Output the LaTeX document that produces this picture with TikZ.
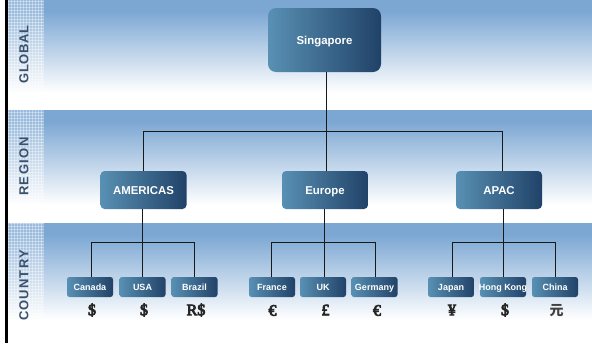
\documentclass[tikz,border=0pt]{standalone}
\usepackage{fontspec}
\setmainfont{Liberation Sans}
\newfontfamily\symfont[FakeBold=5]{Liberation Serif}
\newfontfamily\cjkfont{Noto Sans CJK SC}
\definecolor{bandblue}{RGB}{124,167,211}
\definecolor{boxleft}{RGB}{88,144,179}
\definecolor{boxright}{RGB}{33,66,104}
\definecolor{sidetext}{RGB}{58,82,110}
\pgfdeclareverticalshading{bandfade}{100bp}{color(0bp)=(white); color(33bp)=(white); color(70bp)=(bandblue); color(100bp)=(bandblue)}
\tikzset{
  bandrect/.style={shading=bandfade,draw=none},
  boxbase/.style={rectangle,inner sep=0pt,left color=boxleft,right color=boxright,text=white,draw=none,align=center,text depth=0pt},
  bigbox/.style={boxbase,minimum width=113pt,minimum height=64pt,rounded corners=8pt,text height=8.2pt,font=\fontsize{11.4}{13}\selectfont\bfseries},
  midbox/.style={boxbase,minimum width=86pt,minimum height=38pt,rounded corners=4pt,text height=8.2pt,font=\fontsize{11.4}{13}\selectfont\bfseries},
  smallbox/.style={boxbase,minimum width=46pt,minimum height=20pt,rounded corners=2.5pt,text height=6.5pt,font=\fontsize{9}{11}\selectfont\bfseries},
  sidelabel/.style={rotate=90,text=sidetext,inner sep=0pt,font=\fontsize{13}{15}\selectfont\bfseries},
  money/.style={inner sep=0pt,text=black!85,font=\fontsize{16}{17}\selectfont\symfont},
  moneycjk/.style={inner sep=0pt,text=black!75,font=\fontsize{14}{15}\selectfont\cjkfont\bfseries},
  link/.style={draw=black!90,line width=1pt},
  gridline/.style={white,opacity=.36,line width=1pt}
}
\begin{document}
\begin{tikzpicture}[x=1pt,y=-1pt]
\useasboundingbox (0,0) rectangle (592,343);
\fill[white] (0,0) rectangle (592,343);
% bands
\path[bandrect] (7,0) rectangle (592,110);
\path[bandrect] (7,110) rectangle (592,223);
\path[bandrect] (7,223) rectangle (592,338);
\fill[white] (7,338) rectangle (592,343);
% dotted side panel
\fill[white,opacity=.22] (7,0) rectangle (44,325);
\foreach \x in {8.5,11.5,...,44}{\draw[gridline] (\x,0) -- (\x,325);}
\foreach \y in {1,4,...,325}{\draw[gridline] (7,\y) -- (44,\y);}
\fill[black] (5,0) rectangle (7.5,343);
% side labels
\node[sidelabel] (lg) at (24,54.5) {\addfontfeature{LetterSpace=5}GLOBAL};
\node[sidelabel] (lr) at (24,166.5) {\addfontfeature{LetterSpace=11.5}REGION};
\node[sidelabel] (lc) at (24,285.5) {\addfontfeature{LetterSpace=8.5}COUNTRY};
% nodes
\node[bigbox] (sg) at (324.5,40) {Singapore};
\node[midbox] (am) at (143.5,190) {AMERICAS};
\node[midbox] (eu) at (325,190) {Europe};
\node[midbox] (ap) at (499,190) {APAC};
\node[smallbox] (ca) at (90,287) {Canada};
\node[smallbox] (us) at (142.5,287) {USA};
\node[smallbox] (br) at (194.5,287) {Brazil};
\node[smallbox] (fr) at (272,287) {France};
\node[smallbox] (uk) at (323,287) {UK};
\node[smallbox] (de) at (374.5,287) {Germany};
\node[smallbox] (jp) at (451,287) {Japan};
\node[smallbox] (hk) at (503,287) {\makebox[46pt][c]{Hong Kong}};
\node[smallbox] (cn) at (555,287) {China};
% currency
\node[money] (m1) at (92,310) {\$};
\node[money] (m2) at (144,310) {\$};
\node[money] (m3) at (196,310) {R\$};
\node[money] (m4) at (272.5,310.5) {€};
\node[money] (m5) at (325.5,310) {£};
\node[money] (m6) at (377,310.5) {€};
\node[money] (m7) at (452,310) {¥};
\node[money] (m8) at (505,310) {\$};
\node[moneycjk] (m9) at (556.5,311) {元};
% connectors
\coordinate (t1) at (326.5,131.5);
\coordinate (t2) at (142.5,242.5);
\coordinate (t3) at (324,242.5);
\coordinate (t4) at (503.5,242.5);
\draw[link] ([xshift=2pt]sg.south) -- ([xshift=1.5pt]eu.north);
\draw[link] (am.north) |- (t1) -| ([xshift=3pt]ap.north);
\draw[link] ([xshift=-1pt]am.south) -- (us.north);
\draw[link] ([xshift=1pt]ca.north) |- (t2) -| (br.north);
\draw[link] ([xshift=-1pt]eu.south) -- ([xshift=1pt]uk.north);
\draw[link] ([xshift=-1pt]fr.north) |- (t3) -| ([xshift=.5pt]de.north);
\draw[link] ([xshift=4.5pt]ap.south) -- ([xshift=.5pt]hk.north);
\draw[link] ([xshift=1pt]jp.north) |- (t4) -| ([xshift=.5pt]cn.north);
\end{tikzpicture}
\end{document}
